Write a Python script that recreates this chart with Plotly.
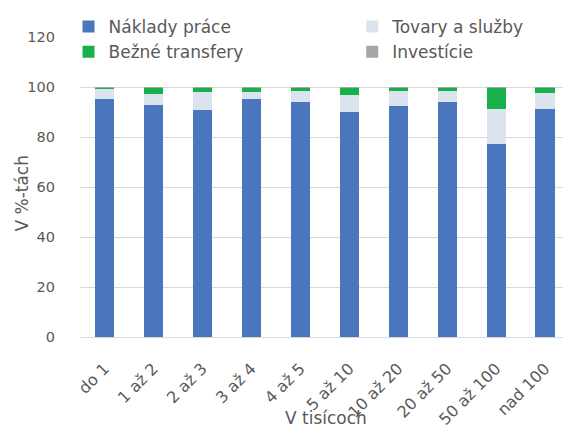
import plotly.graph_objects as go

# Štruktúra výdavkov podľa veľkosti obce (v %)
categories = ["do 1", "1 až 2", "2 až 3", "3 až 4", "4 až 5", "5 až 10",
              "10 až 20", "20 až 50", "50 až 100", "nad 100"]
naklady_prace = [95.1, 93.0, 90.8, 95.3, 94.2, 90.0, 92.4, 94.0, 77.1, 91.1]
tovary_sluzby = [4.0, 4.2, 7.3, 2.6, 4.4, 7.0, 6.0, 4.6, 14.0, 6.5]
bezne_transfery = [0.8, 2.7, 1.8, 2.0, 1.3, 2.9, 1.5, 1.3, 8.8, 2.3]
investicie = [0.1, 0.1, 0.1, 0.1, 0.1, 0.1, 0.1, 0.1, 0.1, 0.1]

y_ticks = [0, 20, 40, 60, 80, 100, 120]

FONT = "DejaVu Sans"
TXT = "#595959"

series = [
    ("Náklady práce", naklady_prace, "#4a76bd", "legend"),
    ("Tovary a služby", tovary_sluzby, "#dbe3ef", "legend2"),
    ("Bežné transfery", bezne_transfery, "#17b04b", "legend"),
    ("Investície", investicie, "#a6a6a6", "legend2"),
]

fig = go.Figure()
for i, (name, vals, color, leg) in enumerate(series):
    fig.add_trace(go.Bar(
        x=list(range(len(categories))), y=vals, name=name,
        marker=dict(color=color, line=dict(width=0)),
        legend=leg, legendgroup=f"g{i}",
    ))

W, H = 563, 428
ml, mr, mt, mb = 79.5, 0, 37, 91
pw, ph = W - ml - mr, H - mt - mb
slot = 49.0
x_hi = pw / slot - 0.5

legend_common = dict(
    orientation="v", bgcolor="rgba(0,0,0,0)", borderwidth=0,
    font=dict(family=FONT, size=17, color=TXT),
    itemwidth=30, tracegroupgap=0,
    xanchor="left", yanchor="top", yref="paper", xref="paper",
)

fig.update_layout(
    width=W, height=H,
    margin=dict(l=ml, r=mr, t=mt, b=mb, autoexpand=False),
    barmode="stack", bargap=0.61,
    plot_bgcolor="white", paper_bgcolor="white",
    font=dict(family=FONT, size=16, color=TXT),
    legend=dict(x=(68 - ml) / pw, y=1 + 28 / ph, **legend_common),
    legend2=dict(x=(352 - ml) / pw, y=1 + 28 / ph, **legend_common),
    xaxis=dict(
        range=[-0.5, x_hi], tickmode="array",
        tickvals=list(range(len(categories))), ticktext=categories,
        tickangle=-45, showgrid=False, zeroline=False,
        showline=True, linecolor="#d9d9d9", linewidth=1,
        ticks="", ticklabelstandoff=15,
        tickfont=dict(family=FONT, size=16, color=TXT),
        automargin=False,
    ),
    yaxis=dict(
        range=[0, 120], tickmode="array", tickvals=y_ticks,
        showgrid=True, gridcolor="#d9d9d9", gridwidth=1,
        zeroline=False, showline=False, ticks="",
        ticklabelstandoff=24,
        tickfont=dict(family=FONT, size=14.5, color=TXT),
        automargin=False,
    ),
    annotations=[
        dict(
            text="V tisícoch", xref="paper", yref="paper",
            x=(326 - ml) / pw, y=-(418 - (mt + ph)) / ph,
            xanchor="center", yanchor="middle", showarrow=False,
            font=dict(family=FONT, size=17, color=TXT),
        ),
        dict(
            text="V %-tách", xref="paper", yref="paper", textangle=-90,
            x=(21 - ml) / pw, y=1 - (193 - mt) / ph,
            xanchor="center", yanchor="middle", showarrow=False,
            font=dict(family=FONT, size=17, color=TXT),
        ),
    ],
    showlegend=True,
)

fig.write_html("out.html")
